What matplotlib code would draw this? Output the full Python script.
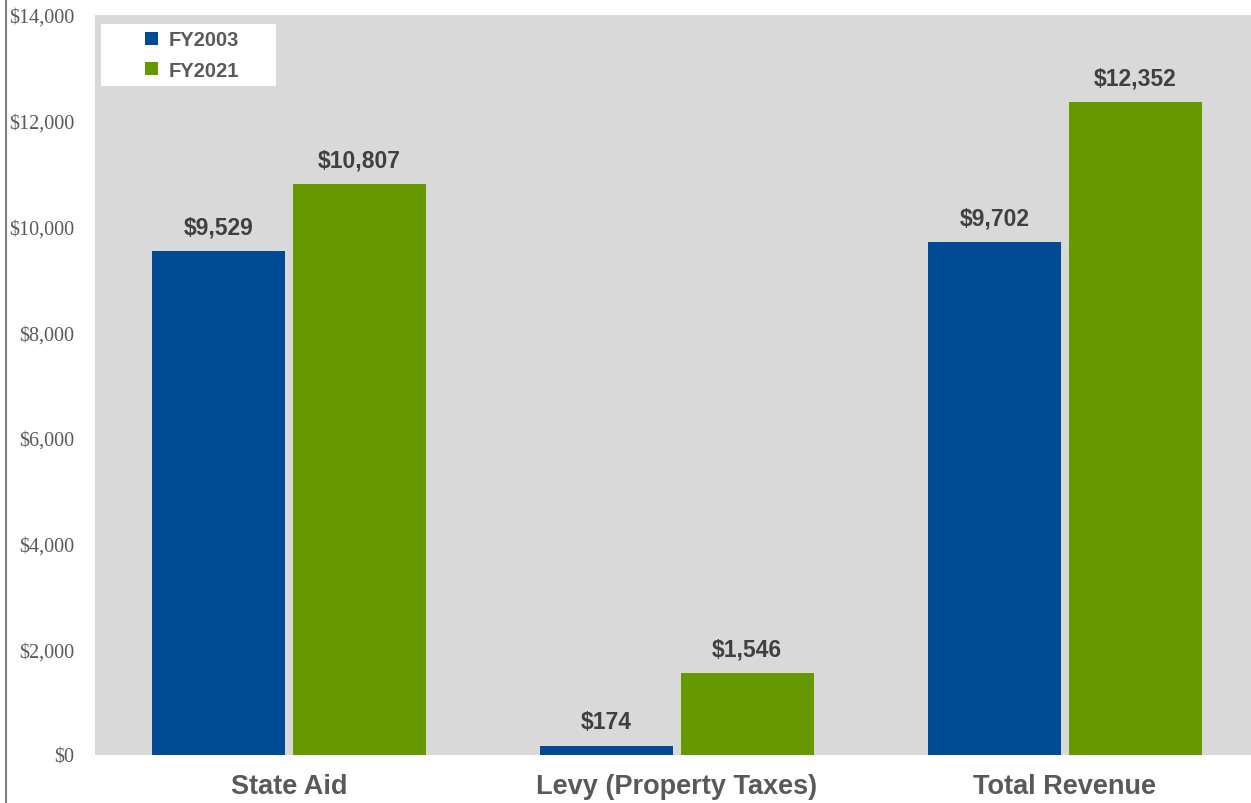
import numpy as np
import matplotlib.pyplot as plt
from matplotlib.lines import Line2D
from matplotlib.patches import Rectangle

# データ
categories = ["State Aid", "Levy (Property Taxes)", "Total Revenue"]
fy2003 = [9529, 174, 9702]
fy2021 = [10807, 1546, 12352]
series_names = ["FY2003", "FY2021"]
yticks = [0, 2000, 4000, 6000, 8000, 10000, 12000, 14000]

blue = "#004b93"
green = "#669900"
text_gray = "#595959"

fig = plt.figure(figsize=(12.51, 8.04), dpi=100)
ax_w = 1251 - 95
ax_h = 756 - 16
ax = fig.add_axes([95 / 1251, 1 - 756 / 804, ax_w / 1251, ax_h / 804])
ax.set_facecolor("#d9d9d9")

x = np.arange(len(categories))
w = 0.343
off = w / 2 + 0.01
b1 = ax.bar(x - off, fy2003, width=w, color=blue, label=series_names[0])
b2 = ax.bar(x + off, fy2021, width=w, color=green, label=series_names[1])

# データラベル
for bars in (b1, b2):
    for r in bars:
        ax.annotate(f"${r.get_height():,.0f}", (r.get_x() + r.get_width() / 2, r.get_height()),
                    xytext=(0, 9), textcoords="offset points", ha="center", va="bottom",
                    fontsize=16.5, fontweight="bold", color="#404040", family="Liberation Sans")

ax.set_xlim(-0.5, 2.48)
ax.set_ylim(0, 14000)
ax.set_yticks(yticks)
ax.set_yticklabels([f"${v:,}" for v in yticks], family="Liberation Serif", fontsize=14.5, color=text_gray)
ax.set_xticks(x)
ax.set_xticklabels(categories, fontsize=19.5, fontweight="bold", color=text_gray, family="Liberation Sans")
ax.tick_params(axis="y", length=0, pad=15)
ax.tick_params(axis="x", length=0, pad=13)
for s in ax.spines.values():
    s.set_visible(False)

# 凡例 (白い箱)
ax.add_patch(Rectangle((6 / ax_w, 1 - 71 / ax_h), 175 / ax_w, 62 / ax_h, transform=ax.transAxes,
                       facecolor="white", edgecolor="none", zorder=4))
leg = ax.legend(loc="center", bbox_to_anchor=(97 / ax_w, 1 - 40 / ax_h), frameon=False,
                handlelength=0.65, handleheight=0.65, handletextpad=0.5,
                borderpad=0, labelspacing=0.55, borderaxespad=0,
                prop={"family": "Liberation Sans", "weight": "bold", "size": 14.5})
leg.set_zorder(5)
for t in leg.get_texts():
    t.set_color(text_gray)

# 左端の縦線
fig.add_artist(Line2D([6 / 1251, 6 / 1251], [0, 1], color="#7f7f7f", lw=1.5))

fig.savefig("out.png", dpi=100)
